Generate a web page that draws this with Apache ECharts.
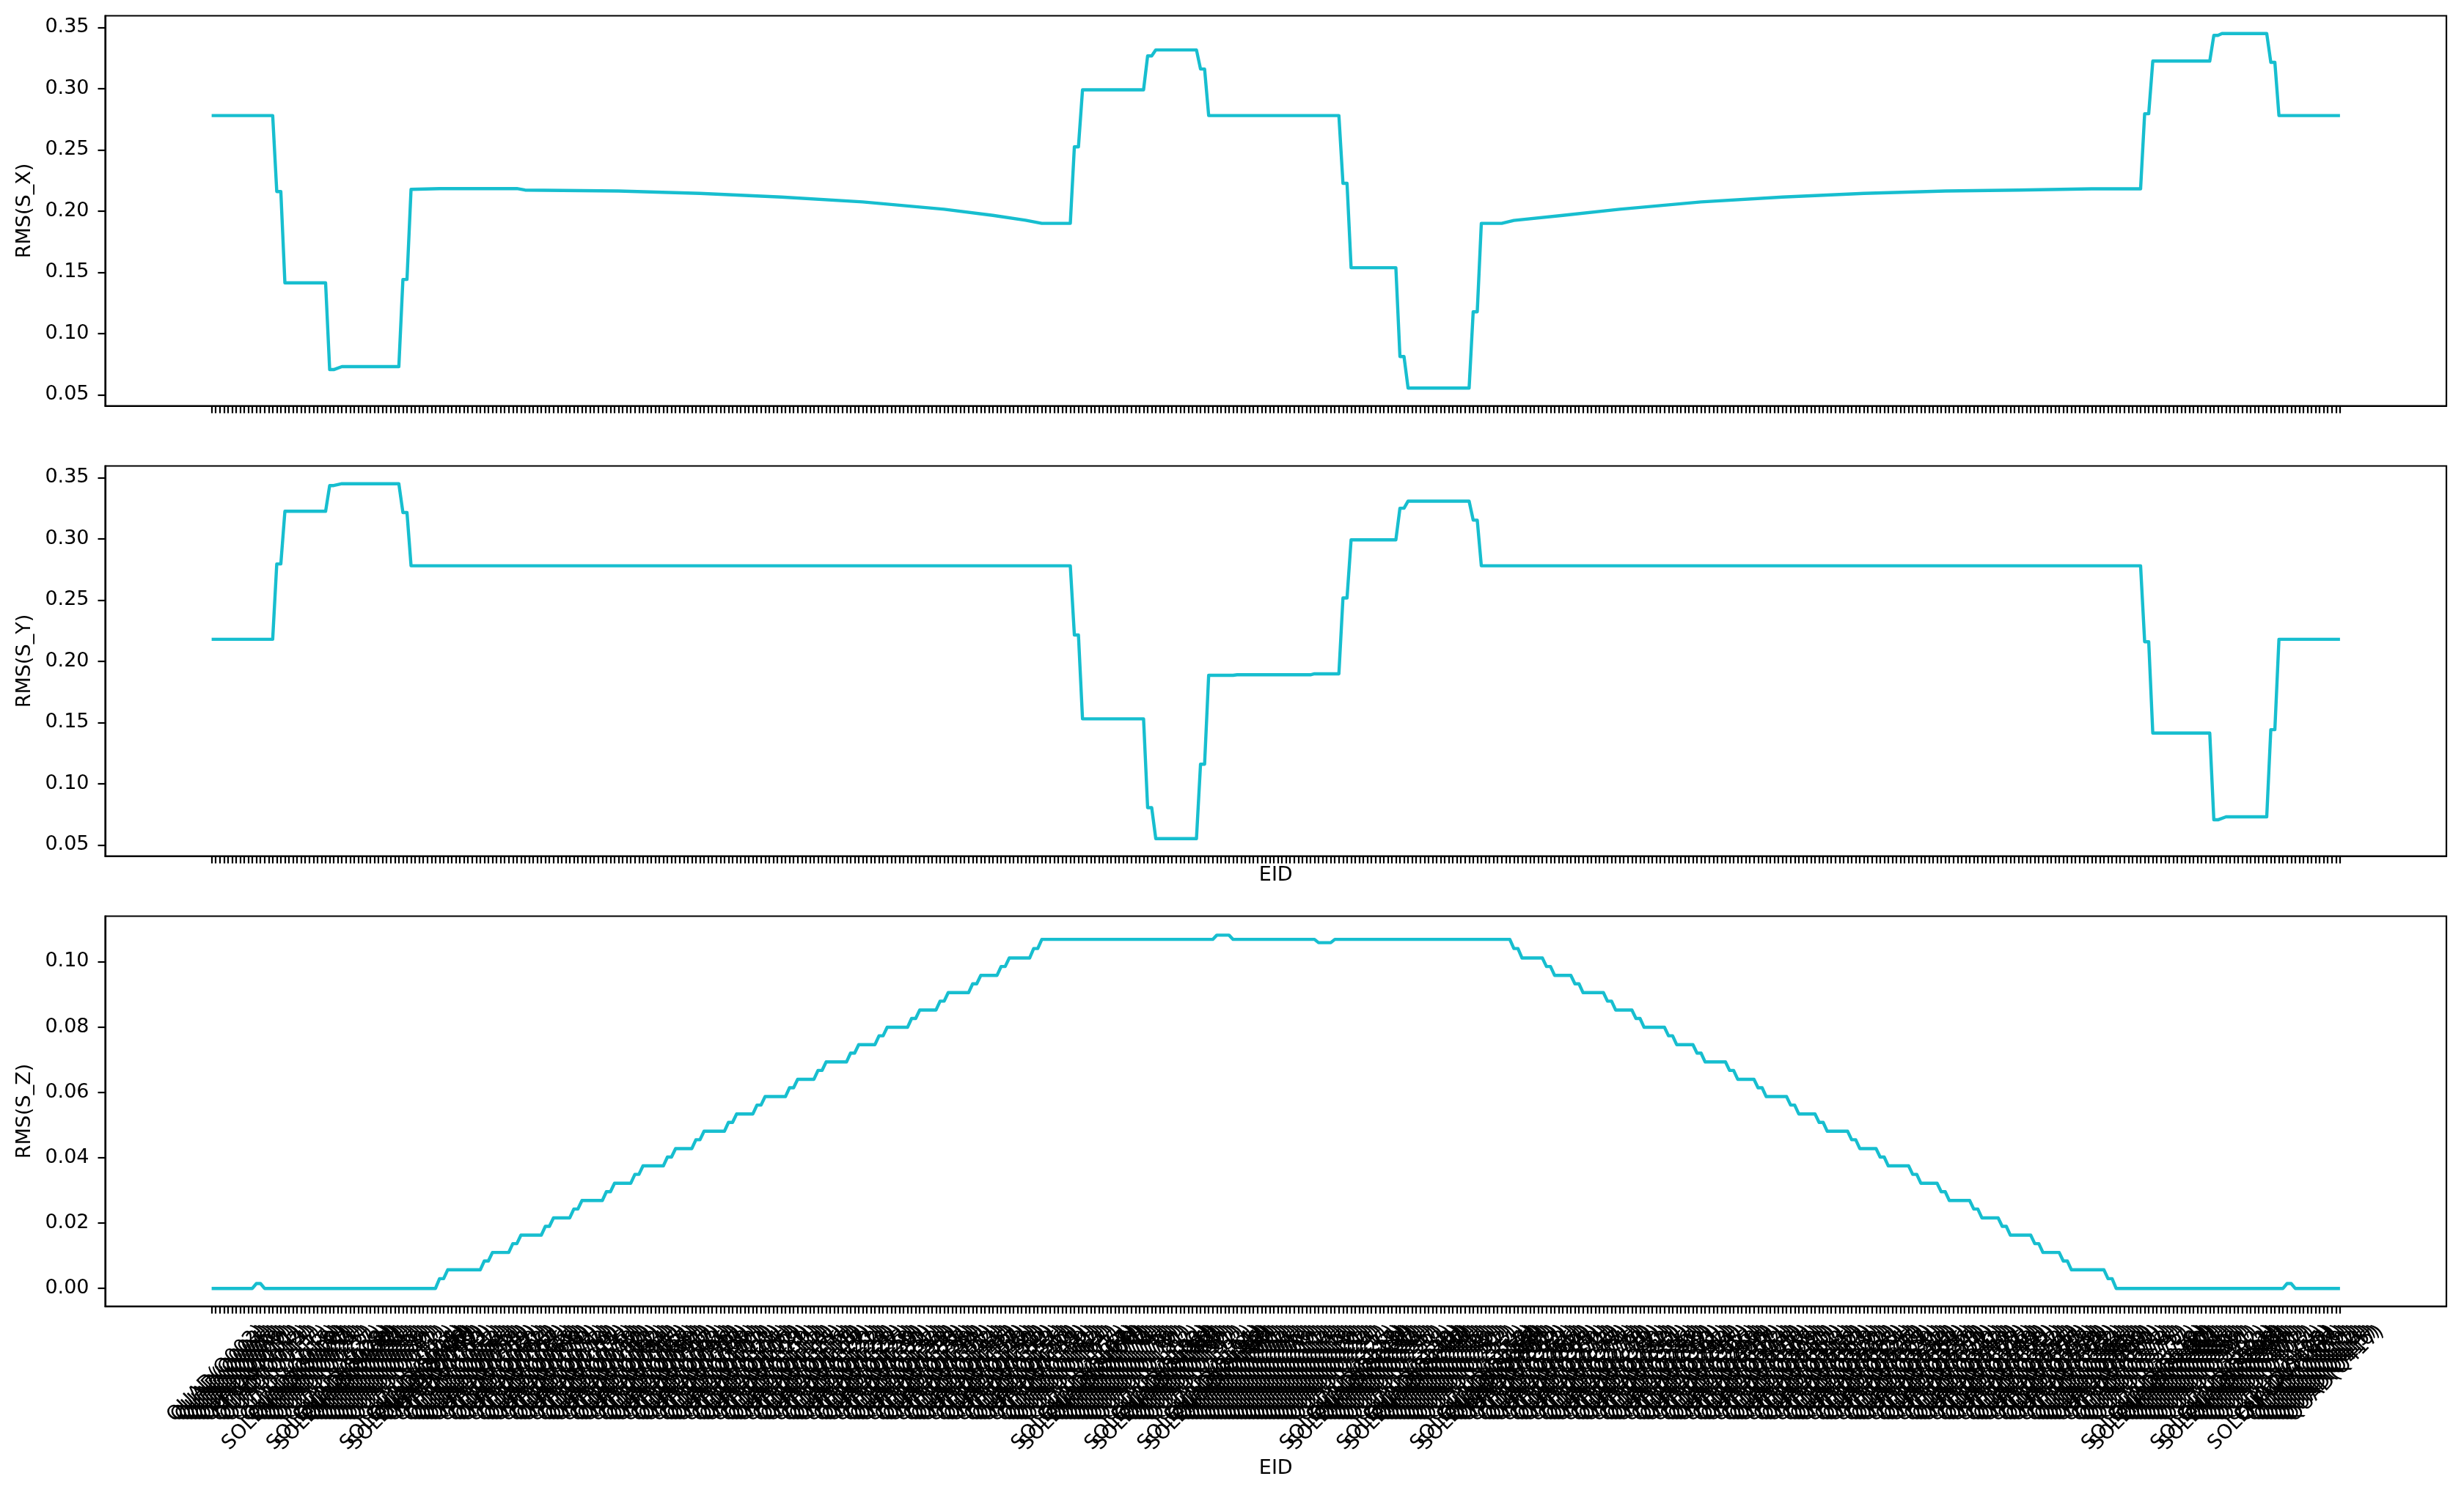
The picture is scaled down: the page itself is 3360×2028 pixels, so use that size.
<!DOCTYPE html>
<html><head><meta charset="utf-8">
<script src="https://cdn.jsdelivr.net/npm/echarts@6/dist/echarts.min.js"></script>
<style>html,body{margin:0;padding:0;background:#fff}#c{width:3360px;height:2028px}</style>
</head><body><div id="c"></div>
<script>
// ---- data (vertices [EID index, value]) ----
const sxPoints = [[0,0.278],[15,0.278],[16,0.216],[17,0.216],[18,0.1414],[28,0.1414],[29,0.0706],[30,0.0706],[32,0.073],[46,0.073],[47,0.1442],[48,0.1442],[49,0.2178],[56,0.2184],[75,0.2184],[77,0.2172],[100,0.2164],[120,0.2145],[140,0.2115],[160,0.2075],[180,0.2015],[192,0.1965],[200,0.1925],[204,0.190],[211,0.190],[212,0.2525],[213,0.2525],[214,0.299],[229,0.299],[230,0.3267],[231,0.3267],[232,0.3316],[242,0.3316],[243,0.316],[244,0.316],[245,0.278],[277,0.278],[278,0.2227],[279,0.2227],[280,0.1538],[291,0.1538],[292,0.0813],[293,0.0813],[294,0.0555],[309,0.0555],[310,0.1178],[311,0.1178],[312,0.190],[317,0.190],[320,0.1924],[332,0.1965],[346,0.2015],[366,0.2075],[386,0.2115],[406,0.2145],[426,0.2164],[444,0.2172],[462,0.2182],[474,0.2182],[475,0.2795],[476,0.2795],[477,0.3225],[491,0.3225],[492,0.3435],[493,0.3435],[494,0.345],[505,0.345],[506,0.3215],[507,0.3215],[508,0.278],[523,0.278]];

const syPoints = [[0,0.218],[15,0.218],[16,0.2795],[17,0.2795],[18,0.3225],[28,0.3225],[29,0.3435],[30,0.3435],[32,0.345],[46,0.345],[47,0.3215],[48,0.3215],[49,0.278],[211,0.278],[212,0.2215],[213,0.2215],[214,0.153],[229,0.153],[230,0.0805],[231,0.0805],[232,0.0552],[242,0.0552],[243,0.116],[244,0.116],[245,0.1886],[251,0.1886],[252,0.189],[270,0.189],[271,0.1898],[277,0.1898],[278,0.2517],[279,0.2517],[280,0.2992],[291,0.2992],[292,0.325],[293,0.325],[294,0.3308],[309,0.3308],[310,0.3153],[311,0.3153],[312,0.278],[474,0.278],[475,0.216],[476,0.216],[477,0.1414],[491,0.1414],[492,0.0706],[493,0.0706],[495,0.073],[505,0.073],[506,0.1442],[507,0.1442],[508,0.218],[523,0.218]];

const szPoints = [[0,0],[10,0],[11,0.0015],[12,0.0015],[13,0],[55,0],[56,0.003],[57,0.003],[58,0.0057],
[66,0.0057],[67,0.0084],[68,0.0084],[69,0.0110],
[73,0.0110],[74,0.0137],[75,0.0137],[76,0.0163],
[81,0.0163],[82,0.0190],[83,0.0190],[84,0.0216],
[88,0.0216],[89,0.0243],[90,0.0243],[91,0.0269],
[96,0.0269],[97,0.0296],[98,0.0296],[99,0.0322],
[103,0.0322],[104,0.0349],[105,0.0349],[106,0.0375],
[111,0.0375],[112,0.0402],[113,0.0402],[114,0.0428],
[118,0.0428],[119,0.0455],[120,0.0455],[121,0.0481],
[126,0.0481],[127,0.0508],[128,0.0508],[129,0.0534],
[133,0.0534],[134,0.0561],[135,0.0561],[136,0.0587],
[141,0.0587],[142,0.0614],[143,0.0614],[144,0.0640],
[148,0.0640],[149,0.0667],[150,0.0667],[151,0.0693],
[156,0.0693],[157,0.0720],[158,0.0720],[159,0.0746],
[163,0.0746],[164,0.0773],[165,0.0773],[166,0.0799],
[171,0.0799],[172,0.0826],[173,0.0826],[174,0.0852],
[178,0.0852],[179,0.0879],[180,0.0879],[181,0.0905],
[186,0.0905],[187,0.0932],[188,0.0932],[189,0.0958],
[193,0.0958],[194,0.0985],[195,0.0985],[196,0.1011],
[201,0.1011],[202,0.1040],[203,0.1040],[204,0.1068],
[246,0.1068],[247,0.1081],[250,0.1081],[251,0.1068],[271,0.1068],[272,0.1058],[275,0.1058],[276,0.1068],
[319,0.1068],[320,0.1040],[321,0.1040],[322,0.1011],
[327,0.1011],[328,0.0985],[329,0.0985],[330,0.0958],
[334,0.0958],[335,0.0932],[336,0.0932],[337,0.0905],
[342,0.0905],[343,0.0879],[344,0.0879],[345,0.0852],
[349,0.0852],[350,0.0826],[351,0.0826],[352,0.0799],
[357,0.0799],[358,0.0773],[359,0.0773],[360,0.0746],
[364,0.0746],[365,0.0720],[366,0.0720],[367,0.0693],
[372,0.0693],[373,0.0667],[374,0.0667],[375,0.0640],
[379,0.0640],[380,0.0614],[381,0.0614],[382,0.0587],
[387,0.0587],[388,0.0561],[389,0.0561],[390,0.0534],
[394,0.0534],[395,0.0508],[396,0.0508],[397,0.0481],
[402,0.0481],[403,0.0455],[404,0.0455],[405,0.0428],
[409,0.0428],[410,0.0402],[411,0.0402],[412,0.0375],
[417,0.0375],[418,0.0349],[419,0.0349],[420,0.0322],
[424,0.0322],[425,0.0296],[426,0.0296],[427,0.0269],
[432,0.0269],[433,0.0243],[434,0.0243],[435,0.0216],
[439,0.0216],[440,0.0190],[441,0.0190],[442,0.0163],
[447,0.0163],[448,0.0137],[449,0.0137],[450,0.0110],
[454,0.0110],[455,0.0084],[456,0.0084],[457,0.0057],
[465,0.0057],[466,0.0030],[467,0.0030],[468,0],
[509,0],[510,0.0015],[511,0.0015],[512,0],[523,0]];

const yTicksXY = [0.05, 0.10, 0.15, 0.20, 0.25, 0.30, 0.35];
const yTicksZ = [0.00, 0.02, 0.04, 0.06, 0.08, 0.10];
const yNames = ['RMS(S_X)', 'RMS(S_Y)', 'RMS(S_Z)'];
const xName = 'EID';

// ---- EID tick labels (lattice element names) ----
const eidCount = 524;
const solenoidIdx = [16,18,29,31,47,49,212,214,230,232,243,245,278,280,292,294,310,312,475,477,492,494,506,508];
const rfIdx = [11,56,58,67,69,74,76,82,84,89,91,97,99,104,106,112,114,119,121,127,129,134,136,142,144,149,151,157,159,164,166,172,174,179,181,187,189,194,196,202,204,
320,322,328,330,335,337,343,345,350,352,358,360,365,367,373,375,380,382,388,390,395,397,403,405,410,412,418,420,425,427,433,435,440,442,448,450,455,457,466,468,511];
const pad = (n, k) => String(n).padStart(k, '0');
const categories = [];
const typeOf = [];
{
  let nq = 0, nr = 0, ns = 0;
  for (let i = 0; i < eidCount; i++) {
    if (solenoidIdx.includes(i)) { categories.push('SOLENOID(SL' + pad(++ns, 2) + ')'); typeOf.push('S'); }
    else if (rfIdx.includes(i)) { categories.push('RFCAV(C' + pad(++nr, 2) + ')'); typeOf.push('R'); }
    else { categories.push('QUAD(Q' + pad(++nq, 3) + ')'); typeOf.push('Q'); }
  }
}

// ---- layout ----
const FONT = 'DejaVu Sans';
const FS = 27;
const LW = 2.2;
const xMin = -0.05 * (eidCount - 1), xMax = (eidCount - 1) * 1.05;
const tickIdx = categories.map((_, i) => i);
const gridLeft = 143.5, gridW = 3192.5, gridH = 532;
const gridTops = [21.5, 635.5, 1249.5];

const cv = document.createElement('canvas').getContext('2d');
cv.font = FS + 'px "' + FONT + '"';
function labelMargin(t) {
  const idx = tickIdx.filter(i => typeOf[i] === t);
  const w = idx.reduce((s, i) => s + cv.measureText(categories[i]).width, 0) / idx.length;
  return { idx, margin: 20 + 0.3536 * (w + 30) };
}

const grids = gridTops.map(t => ({ left: gridLeft, top: t, width: gridW, height: gridH, show: true,
  borderColor: '#000', borderWidth: LW, backgroundColor: 'transparent', containLabel: false, outerBoundsMode: 'none' }));

function mainX(g, name, gap) {
  return { type: 'value', gridIndex: g, min: xMin, max: xMax, position: 'bottom', offset: 0,
    axisLine: { show: true, onZero: false, lineStyle: { color: '#000', width: LW } },
    axisTick: { show: true, customValues: tickIdx, length: 10, lineStyle: { color: '#000', width: LW } },
    axisLabel: { show: false }, splitLine: { show: false },
    name: name, nameLocation: 'middle', nameGap: gap, nameMoveOverlap: false,
    nameTextStyle: { fontSize: FS, fontFamily: FONT, color: '#000' } };
}
function labelX(t) {
  const m = labelMargin(t);
  return { type: 'value', gridIndex: 2, min: xMin, max: xMax, position: 'bottom', offset: 0,
    axisLine: { show: false, onZero: false }, axisTick: { show: false }, splitLine: { show: false },
    axisLabel: { show: true, customValues: m.idx, rotate: 45, align: 'center', verticalAlign: 'middle',
      margin: m.margin, fontSize: FS, fontFamily: FONT, color: '#000',
      formatter: v => categories[Math.round(v)] } };
}
function mkY(g, min, max, ticks, name) {
  return { type: 'value', gridIndex: g, min: min, max: max,
    axisLine: { show: true, onZero: false, lineStyle: { color: '#000', width: LW } },
    axisTick: { show: true, customValues: ticks, length: 10, lineStyle: { color: '#000', width: LW } },
    axisLabel: { show: true, customValues: ticks, margin: 22, fontSize: FS, fontFamily: FONT, color: '#000',
      formatter: v => v.toFixed(2) },
    splitLine: { show: false },
    name: name, nameLocation: 'middle', nameGap: 96, nameMoveOverlap: false,
    nameTextStyle: { fontSize: FS, fontFamily: FONT, color: '#000' } };
}
function mkSeries(g, data) {
  return { type: 'line', xAxisIndex: g, yAxisIndex: g, data: data, showSymbol: false, symbol: 'none',
    lineStyle: { color: '#17becf', width: 4.4, join: 'round' }, animation: false, silent: true };
}

const option = {
  backgroundColor: '#fff',
  animation: false,
  grid: grids,
  xAxis: [mainX(0, '', 0), mainX(1, xName, 13), mainX(2, xName, 208), labelX('Q'), labelX('R'), labelX('S')],
  yAxis: [mkY(0, 0.041, 0.3595, yTicksXY, yNames[0]), mkY(1, 0.041, 0.3595, yTicksXY, yNames[1]),
          mkY(2, -0.00545, 0.1139, yTicksZ, yNames[2])],
  series: [mkSeries(0, sxPoints), mkSeries(1, syPoints), mkSeries(2, szPoints)]
};
const chart = echarts.init(document.getElementById('c'), null, { renderer: 'canvas', width: 3360, height: 2028 });
chart.setOption(option);
</script></body></html>
